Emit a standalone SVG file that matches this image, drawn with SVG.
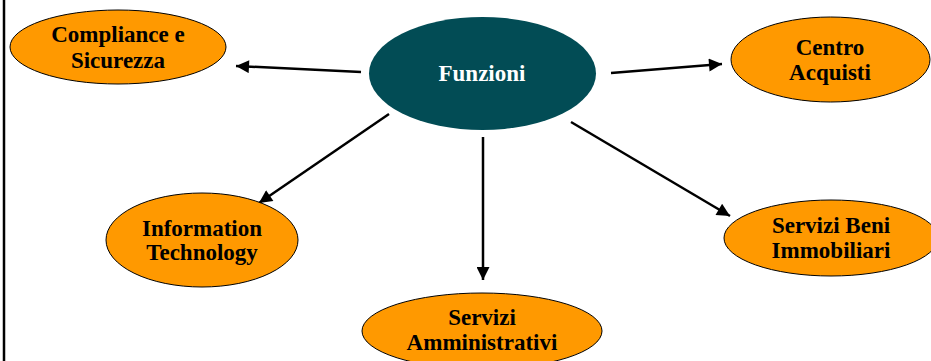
<svg xmlns="http://www.w3.org/2000/svg" width="931" height="361" viewBox="0 0 931 361">
  <style>
    .leaf { fill: #FF9900; stroke: #000; stroke-width: 1; }
    .hub { fill: #024C55; }
    .label { font-family: "Liberation Serif", "DejaVu Serif", serif; font-weight: bold; font-size: 23px; text-anchor: middle; fill: #000; }
    .hub-label { fill: #fff; }
    .link { stroke: #000; stroke-width: 2.5; fill: none; marker-end: url(#head); }
  </style>
  <defs>
    <marker id="head" viewBox="0 0 10 10" refX="10" refY="5" markerWidth="6" markerHeight="5.2" markerUnits="strokeWidth" orient="auto">
      <path d="M0,0 L10,5 L0,10 Z" fill="#000"/>
    </marker>
  </defs>
  <rect width="931" height="361" fill="#fff"/>
  <!-- left frame edge -->
  <line x1="4" y1="0" x2="4" y2="361" stroke="#000" stroke-width="2.5"/>

  <g id="connectors">
    <line class="link" x1="361" y1="72" x2="236" y2="66"/>
    <line class="link" x1="611" y1="73" x2="722" y2="64"/>
    <line class="link" x1="389" y1="114" x2="259" y2="203"/>
    <line class="link" x1="483" y1="137" x2="483" y2="280"/>
    <line class="link" x1="571" y1="122" x2="730" y2="216"/>
  </g>

  <g id="funzioni">
    <ellipse class="hub" cx="482.5" cy="73.5" rx="113.5" ry="56.5"/>
    <text class="label hub-label" x="482" y="81">Funzioni</text>
  </g>

  <g id="compliance">
    <ellipse class="leaf" cx="118" cy="47" rx="108" ry="37"/>
    <text class="label" x="118" y="42">Compliance e</text>
    <text class="label" x="118" y="68">Sicurezza</text>
  </g>

  <g id="centro-acquisti">
    <ellipse class="leaf" cx="830.5" cy="59.5" rx="99.5" ry="42.5"/>
    <text class="label" x="830" y="55">Centro</text>
    <text class="label" x="830" y="80">Acquisti</text>
  </g>

  <g id="information-technology">
    <ellipse class="leaf" cx="202" cy="240" rx="96" ry="47"/>
    <text class="label" x="202" y="236">Information</text>
    <text class="label" x="202" y="260">Technology</text>
  </g>

  <g id="servizi-amministrativi">
    <ellipse class="leaf" cx="482" cy="331" rx="120" ry="38"/>
    <text class="label" x="482" y="325">Servizi</text>
    <text class="label" x="482" y="350">Amministrativi</text>
  </g>

  <g id="servizi-beni-immobiliari">
    <ellipse class="leaf" cx="831" cy="238" rx="107" ry="38"/>
    <text class="label" x="831" y="233">Servizi Beni</text>
    <text class="label" x="831" y="258">Immobiliari</text>
  </g>
</svg>
